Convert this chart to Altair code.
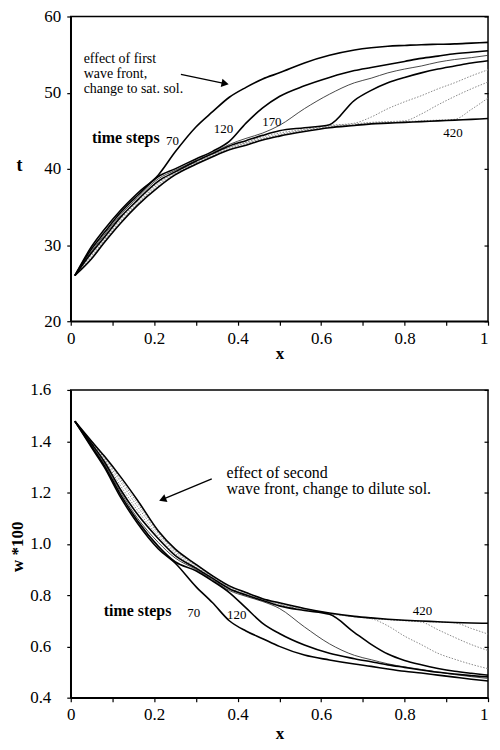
import altair as alt
import pandas as pd

# shared x grid (dimensionless column position)
X = [0.01, 0.05, 0.08, 0.12, 0.16, 0.21, 0.25, 0.30, 0.34, 0.38, 0.42, 0.46,
     0.50, 0.56, 0.62, 0.68, 0.72, 0.76, 0.80, 0.84, 0.88, 0.92, 0.96, 1.0]

STEPS = ["70", "120", "170", "220", "270", "320", "370", "420"]
STYLE = {"70": "thick", "120": "thick", "170": "thin", "220": "thick",
         "270": "dotted", "320": "dotted", "370": "dotted", "420": "thick"}

# temperature t, per time step
T70 = [26.0, 29.8, 32.0, 34.6, 36.8, 39.2, 42.2, 45.5, 47.5, 49.4, 50.7, 51.8,
       52.6, 53.9, 54.9, 55.6, 55.9, 56.1, 56.2, 56.3, 56.35, 56.4, 56.5, 56.6]
T120 = [26.0, 29.5, 31.6, 34.3, 36.5, 39.0, 40.0, 41.3, 42.3, 43.6, 46.0, 48.0,
        49.5, 50.9, 52.0, 52.9, 53.3, 53.7, 54.1, 54.5, 54.8, 55.1, 55.3, 55.5]
T170 = [26.0, 29.2, 31.3, 34.0, 36.2, 38.7, 39.8, 41.1, 42.1, 43.2, 44.0, 44.7,
        45.7, 47.9, 49.8, 51.3, 51.9, 52.6, 53.1, 53.5, 54.0, 54.35, 54.6, 54.9]
T220 = [26.0, 29.0, 31.0, 33.7, 35.9, 38.4, 39.6, 41.0, 42.0, 43.0, 43.7, 44.4,
        45.0, 45.4, 45.8, 49.0, 50.3, 51.3, 52.0, 52.6, 53.1, 53.5, 53.9, 54.2]
T270 = [26.0, 28.8, 30.8, 33.5, 35.7, 38.2, 39.5, 40.9, 41.9, 42.9, 43.5, 44.2,
        44.7, 45.2, 45.7, 46.0, 46.8, 47.9, 48.8, 49.6, 50.5, 51.3, 52.2, 53.0]
T320 = [26.0, 28.6, 30.6, 33.3, 35.5, 38.0, 39.4, 40.8, 41.8, 42.8, 43.4, 44.0,
        44.5, 45.1, 45.6, 45.9, 46.1, 46.2, 46.3, 47.2, 48.4, 49.5, 50.5, 51.4]
T370 = [26.0, 28.4, 30.5, 33.1, 35.4, 37.8, 39.3, 40.7, 41.7, 42.7, 43.3, 43.9,
        44.4, 45.0, 45.5, 45.8, 46.0, 46.1, 46.2, 46.3, 46.4, 46.5, 47.8, 49.3]
T420 = [26.0, 28.2, 30.3, 32.9, 35.2, 37.6, 39.2, 40.6, 41.6, 42.5, 43.1, 43.8,
        44.3, 44.9, 45.4, 45.7, 45.9, 46.0, 46.1, 46.2, 46.3, 46.4, 46.5, 46.6]

# concentration w*100, per time step
W70 = [1.478, 1.375, 1.300, 1.180, 1.080, 0.980, 0.925, 0.833, 0.770, 0.700, 0.660, 0.630,
       0.600, 0.566, 0.547, 0.531, 0.522, 0.512, 0.503, 0.496, 0.488, 0.480, 0.472, 0.465]
W120 = [1.478, 1.380, 1.307, 1.190, 1.090, 0.990, 0.930, 0.895, 0.855, 0.810, 0.750, 0.690,
        0.650, 0.605, 0.573, 0.552, 0.540, 0.528, 0.518, 0.508, 0.499, 0.492, 0.486, 0.481]
W170 = [1.478, 1.385, 1.315, 1.200, 1.100, 1.005, 0.945, 0.900, 0.860, 0.818, 0.795, 0.775,
        0.748, 0.676, 0.610, 0.565, 0.548, 0.532, 0.520, 0.510, 0.500, 0.490, 0.482, 0.475]
W220 = [1.478, 1.390, 1.322, 1.210, 1.115, 1.020, 0.955, 0.905, 0.865, 0.825, 0.800, 0.779,
        0.758, 0.740, 0.725, 0.654, 0.608, 0.570, 0.545, 0.528, 0.514, 0.503, 0.495, 0.488]
W270 = [1.478, 1.393, 1.330, 1.225, 1.130, 1.030, 0.963, 0.910, 0.868, 0.830, 0.803, 0.782,
        0.763, 0.743, 0.727, 0.715, 0.708, 0.680, 0.640, 0.607, 0.573, 0.550, 0.530, 0.513]
W320 = [1.478, 1.396, 1.335, 1.240, 1.145, 1.040, 0.970, 0.915, 0.871, 0.833, 0.806, 0.784,
        0.766, 0.745, 0.728, 0.716, 0.709, 0.704, 0.700, 0.695, 0.665, 0.635, 0.607, 0.584]
W370 = [1.478, 1.398, 1.340, 1.250, 1.158, 1.045, 0.975, 0.918, 0.873, 0.835, 0.808, 0.785,
        0.768, 0.747, 0.729, 0.716, 0.710, 0.705, 0.701, 0.698, 0.695, 0.692, 0.670, 0.648]
W420 = [1.478, 1.400, 1.343, 1.260, 1.170, 1.050, 0.980, 0.920, 0.875, 0.836, 0.810, 0.786,
        0.770, 0.748, 0.730, 0.717, 0.711, 0.706, 0.702, 0.699, 0.696, 0.693, 0.691, 0.690]

TOP = {"70": T70, "120": T120, "170": T170, "220": T220,
       "270": T270, "320": T320, "370": T370, "420": T420}
BOT = {"70": W70, "120": W120, "170": W170, "220": W220,
       "270": W270, "320": W320, "370": W370, "420": W420}

# labels (data coordinates)
TOP_LABEL_TEXT = ["70", "120", "170", "420"]
TOP_LABEL_X = [0.244, 0.366, 0.482, 0.916]
TOP_LABEL_Y = [43.65, 45.2, 46.2, 44.7]
BOT_LABEL_TEXT = ["70", "120", "420"]
BOT_LABEL_X = [0.295, 0.398, 0.843]
BOT_LABEL_Y = [0.732, 0.723, 0.738]

TOP_NOTE = ["effect of first", "wave front,", "change to sat. sol."]
TOP_NOTE_X = [0.031, 0.031, 0.031]
TOP_NOTE_Y = [54.41, 52.47, 50.54]
BOT_NOTE = ["effect of second", "wave front, change to dilute sol."]
BOT_NOTE_X = [0.373, 0.373]
BOT_NOTE_Y = [1.276, 1.212]

TS_TOP = (0.051, 44.1)
TS_BOT = (0.079, 0.736)

TOP_ARROW_X = [0.264, 0.37]
TOP_ARROW_Y = [52.39, 51.19]
BOT_ARROW_X = [0.338, 0.22]
BOT_ARROW_Y = [1.253, 1.173]

FONT = "Liberation Serif"


def long(series):
    rows = []
    for name in STEPS:
        for x, v in zip(X, series[name]):
            rows.append({"x": x, "v": v, "step": name, "style": STYLE[name]})
    return pd.DataFrame(rows)


def make_xaxis(title_y):
    return alt.Axis(values=[round(i * 0.1, 1) for i in range(11)],
                    labelExpr="round(datum.value*10)%2==0 ? format(datum.value,'~g') : ''",
                    labelAlign={"condition": {"test": "datum.value >= 1", "value": "right"},
                                "value": "center"},
                    tickSize=4, labelPadding=5, title="x", titleY=title_y,
                    titleBaseline="middle", titleFontSize=17, titleFontWeight="bold",
                    labelFontSize=17, grid=False)


def panel(series, ydom, yvals, yfmt, ylabpad, ytitle, ytitle_kw,
          lab_t, lab_x, lab_y, notes, note_x, note_y, note_size, ts, ax, ay,
          arrow_shape, arrow_angle, width, height, xtitle_y):
    df = long(series)
    xenc = alt.X("x:Q", scale=alt.Scale(domain=[0, 1], nice=False), axis=make_xaxis(xtitle_y))
    yscale = alt.Scale(domain=ydom, nice=False, zero=False)
    left_axis = alt.Axis(values=yvals, format=yfmt, tickSize=4, labelPadding=ylabpad,
                         title=ytitle, labelFontSize=17, grid=False, **ytitle_kw)
    right_axis = alt.Axis(values=yvals, orient="right", labels=False, tickSize=4, offset=-4,
                          title=None, domain=False, grid=False)
    base = alt.Chart(df)
    dotted = base.transform_filter(alt.datum.style == "dotted").mark_line(
        color="#8a8a8a", strokeWidth=1, strokeDash=[1.5, 1.5], interpolate="monotone"
    ).encode(x=xenc, y=alt.Y("v:Q", scale=yscale, axis=right_axis), detail="step:N")
    thin = base.transform_filter(alt.datum.style == "thin").mark_line(
        color="#333333", strokeWidth=0.9, interpolate="monotone"
    ).encode(x=xenc, y=alt.Y("v:Q", scale=yscale, axis=None), detail="step:N")
    thick = base.transform_filter(alt.datum.style == "thick").mark_line(
        color="black", strokeWidth=1.6, interpolate="monotone"
    ).encode(x=xenc, y=alt.Y("v:Q", scale=yscale, axis=left_axis), detail="step:N")

    labs = alt.Chart(pd.DataFrame({"t": lab_t, "x": lab_x, "y": lab_y})).mark_text(
        font=FONT, fontSize=13, color="black"
    ).encode(x=xenc, y=alt.Y("y:Q", scale=yscale, axis=None), text="t:N")
    note = alt.Chart(pd.DataFrame({"t": notes, "x": note_x, "y": note_y})).mark_text(
        font=FONT, fontSize=note_size, color="black", align="left"
    ).encode(x=xenc, y=alt.Y("y:Q", scale=yscale, axis=None), text="t:N")
    tsl = alt.Chart(pd.DataFrame({"t": ["time steps"], "x": [ts[0]], "y": [ts[1]]})).mark_text(
        font=FONT, fontSize=16, fontWeight="bold", color="black", align="left"
    ).encode(x=xenc, y=alt.Y("y:Q", scale=yscale, axis=None), text="t:N")
    adf = pd.DataFrame({"x": ax, "y": ay, "o": [0, 1]})
    aline = alt.Chart(adf).mark_line(color="black", strokeWidth=1.3).encode(
        x=xenc, y=alt.Y("y:Q", scale=yscale, axis=None), order="o:O")
    ahead = alt.Chart(adf.iloc[[1]]).mark_point(
        shape=arrow_shape, angle=arrow_angle, size=70, filled=True, color="black", opacity=1
    ).encode(x=xenc, y=alt.Y("y:Q", scale=yscale, axis=None))
    return alt.layer(dotted, thin, thick, labs, note, tsl, aline, ahead).resolve_axis(
        y="independent").properties(width=width, height=height)


top = panel(TOP, [20, 60], [20, 30, 40, 50, 60], "d", 6, "t",
            dict(titleAngle=0, titleX=-52, titleY=150, titleAlign="center",
                 titleBaseline="middle", titleFontSize=18, titleFontWeight="bold"),
            TOP_LABEL_TEXT, TOP_LABEL_X, TOP_LABEL_Y, TOP_NOTE, TOP_NOTE_X, TOP_NOTE_Y, 14,
            TS_TOP, TOP_ARROW_X, TOP_ARROW_Y, "triangle-right", 12, 419, 306, 32)
bottom = panel(BOT, [0.4, 1.6], [0.4, 0.6, 0.8, 1.0, 1.2, 1.4, 1.6], ".1f", 16, "w *100",
               dict(titleAngle=270, titleX=-53, titleY=157, titleAlign="center",
                    titleBaseline="middle", titleFontSize=17, titleFontWeight="bold"),
               BOT_LABEL_TEXT, BOT_LABEL_X, BOT_LABEL_Y, BOT_NOTE, BOT_NOTE_X, BOT_NOTE_Y, 16,
               TS_BOT, BOT_ARROW_X, BOT_ARROW_Y, "triangle-left", 338, 419, 309, 36)

chart = alt.vconcat(top, bottom, spacing=18).properties(
    padding={"left": 0, "top": -3, "right": 0, "bottom": 0}
).configure(font=FONT).configure_view(stroke="black", strokeWidth=1.5).configure_axis(
    domainColor="black", domainWidth=1.5, tickColor="black", tickWidth=1.2,
    labelColor="black", titleColor="black", labelFont=FONT, titleFont=FONT
)

chart.save("out.html", embed_options={"renderer": "svg", "actions": False})
